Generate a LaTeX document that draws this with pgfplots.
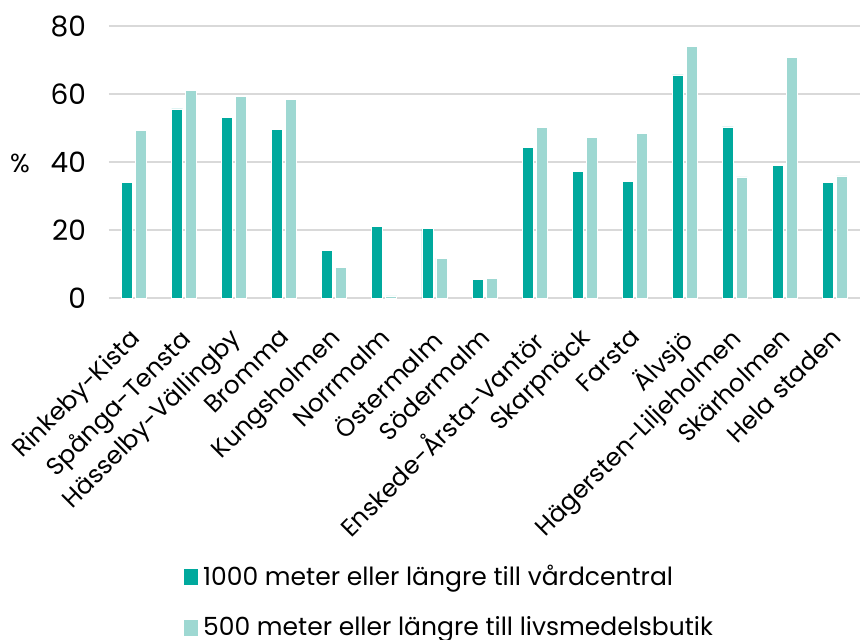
\documentclass[border=0pt]{standalone}
\usepackage{fontspec}
\setmainfont{Poppins}
\usepackage{pgfplots}
\pgfplotsset{compat=1.18}
\definecolor{dark}{HTML}{00A99D}
\definecolor{light}{HTML}{9ED8D2}
\definecolor{gridc}{HTML}{D9D9D9}
\begin{document}
\begin{tikzpicture}
\begin{axis}[
  at={(0,0)}, anchor=south west,
  scale only axis, width=375.5pt, height=136pt,
  ybar=1.5pt, bar width=5.5pt,
  xmin=-0.5, xmax=14.5, ymin=0, ymax=80,
  ytick={0,20,40,60,80},
  xtick={0,...,14},
  xticklabels={Rinkeby-Kista,Spånga-Tensta,Hässelby-Vällingby,Bromma,Kungsholmen,Norrmalm,Östermalm,Södermalm,Enskede-Årsta-Vantör,Skarpnäck,Farsta,Älvsjö,Hägersten-Liljeholmen,Skärholmen,Hela staden},
  /pgf/number format/assume math mode=true,
  axis line style={draw=none},
  tick style={draw=none},
  ymajorgrids, major grid style={gridc, line width=0.8pt},
  yticklabel style={font=\fontsize{14}{16}\selectfont, anchor=east, xshift=-8pt},
  xticklabel style={font=\fontsize{12.3}{14}\selectfont, rotate=45, anchor=north east, inner sep=1pt, yshift=-4pt, xshift=-8pt},
  ylabel={\%},
  ylabel style={rotate=-90, font=\fontsize{13}{15}\selectfont, at={(axis description cs:-0.1185,0.496)}, anchor=center},
  legend image code/.code={\fill[#1] (0pt,-4.25pt) rectangle (7.5pt,4.25pt);},
  legend style={at={(0.0985,-0.967)}, anchor=north west, draw=none, fill=none, inner sep=0pt, row sep=10pt, font=\fontsize{12.5}{14}\selectfont},
  legend cell align=left,
]
\addplot[fill=dark, draw=white, line width=0.4pt] coordinates {
(0,34.1) (1,55.6) (2,53.0) (3,49.5) (4,14.0) (5,21.1) (6,20.4) (7,5.4) (8,44.4) (9,37.2) (10,34.3) (11,65.6) (12,50.3) (13,39.1) (14,34.1)};
\addplot[fill=light, draw=white, line width=0.4pt] coordinates {
(0,49.2) (1,61.0) (2,59.4) (3,58.4) (4,8.9) (5,0.6) (6,11.7) (7,5.7) (8,50.2) (9,47.3) (10,48.4) (11,74.1) (12,35.6) (13,70.7) (14,35.9)};
\legend{1000 meter eller längre till vårdcentral, 500 meter eller längre till livsmedelsbutik}
\end{axis}
\pgfresetboundingbox
\useasboundingbox (-54.5pt,-170.5pt) rectangle (375.5pt,149pt);
\end{tikzpicture}
\end{document}
